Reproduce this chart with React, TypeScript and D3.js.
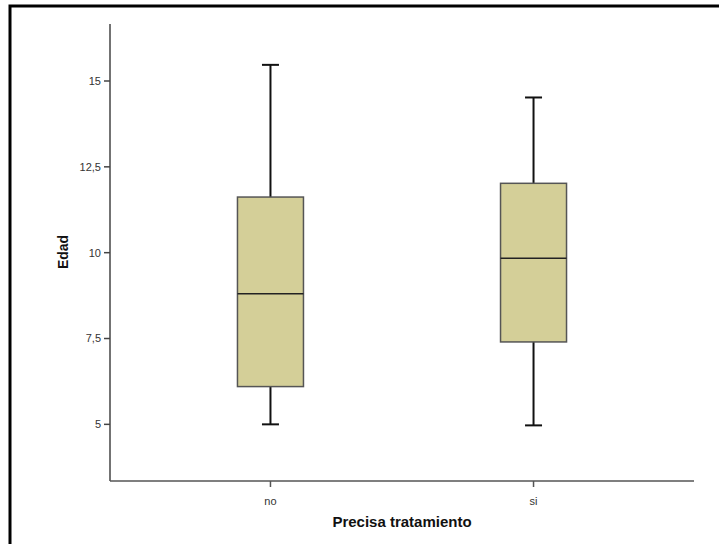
import React from "react";
import * as d3 from "d3";

const categories = ["no", "si"];
const whiskerLow = [5.0, 4.97];
const q1 = [6.1, 7.4];
const median = [8.8, 9.84];
const q3 = [11.62, 12.02];
const whiskerHigh = [15.47, 14.52];
const yTicks = [5, 7.5, 10, 12.5, 15];

const W = 719;
const H = 544;
const left = 110;
const right = 694;
const top = 24;
const bottom = 481;

export default function App() {
  const y = d3.scaleLinear().domain([3.35, 16.66]).range([bottom, top]);
  const x = d3.scalePoint<string>().domain(categories).range([left, right]).padding(0.61);
  const boxW = 66;
  const capW = 17;
  const fmt = (v: number) => String(v).replace(".", ",");
  const font = "Arial, 'Liberation Sans', sans-serif";

  return (
    <svg width={W} height={H} style={{ position: "absolute", left: 0, top: 0, background: "#fff" }}>
      <rect x={10} y={6} width={W + 20} height={H + 20} fill="#fff" stroke="#000" strokeWidth={3} />
      {/* Y axis */}
      <line x1={left} x2={left} y1={top} y2={bottom} stroke="#444" strokeWidth={1.5} />
      {yTicks.map((t) => (
        <g key={t}>
          <line x1={left - 6} x2={left} y1={y(t)} y2={y(t)} stroke="#444" strokeWidth={1.5} />
          <text x={left - 9} y={y(t)} dy="0.35em" textAnchor="end" fontSize={11} fill="#333" fontFamily={font}>
            {fmt(t)}
          </text>
        </g>
      ))}
      {/* X axis */}
      <line x1={left} x2={right} y1={bottom} y2={bottom} stroke="#555" strokeWidth={1.5} />
      {categories.map((c) => (
        <g key={c}>
          <line x1={x(c)!} x2={x(c)!} y1={bottom} y2={bottom + 6} stroke="#555" strokeWidth={1.5} />
          <text x={x(c)!} y={505} textAnchor="middle" fontSize={11} fill="#333" fontFamily={font}>
            {c}
          </text>
        </g>
      ))}
      {/* Boxes */}
      {categories.map((c, i) => {
        const cx = x(c)!;
        return (
          <g key={"b" + c}>
            <line x1={cx} x2={cx} y1={y(whiskerHigh[i])} y2={y(q3[i])} stroke="#111" strokeWidth={2} />
            <line x1={cx} x2={cx} y1={y(q1[i])} y2={y(whiskerLow[i])} stroke="#111" strokeWidth={2} />
            <line x1={cx - capW / 2} x2={cx + capW / 2} y1={y(whiskerHigh[i])} y2={y(whiskerHigh[i])} stroke="#111" strokeWidth={2} />
            <line x1={cx - capW / 2} x2={cx + capW / 2} y1={y(whiskerLow[i])} y2={y(whiskerLow[i])} stroke="#111" strokeWidth={2} />
            <rect
              x={cx - boxW / 2}
              y={y(q3[i])}
              width={boxW}
              height={y(q1[i]) - y(q3[i])}
              fill="#d4cf98"
              stroke="#555"
              strokeWidth={1.5}
            />
            <line x1={cx - boxW / 2} x2={cx + boxW / 2} y1={y(median[i])} y2={y(median[i])} stroke="#222" strokeWidth={1.5} />
          </g>
        );
      })}
      {/* Axis titles */}
      <text
        transform={`translate(68, ${252}) rotate(-90)`}
        textAnchor="middle"
        fontSize={14}
        fontWeight="bold"
        fill="#111"
        fontFamily={font}
      >
        Edad
      </text>
      <text x={402} y={527} textAnchor="middle" fontSize={15} fontWeight="bold" fill="#111" fontFamily={font}>
        Precisa tratamiento
      </text>
    </svg>
  );
}
